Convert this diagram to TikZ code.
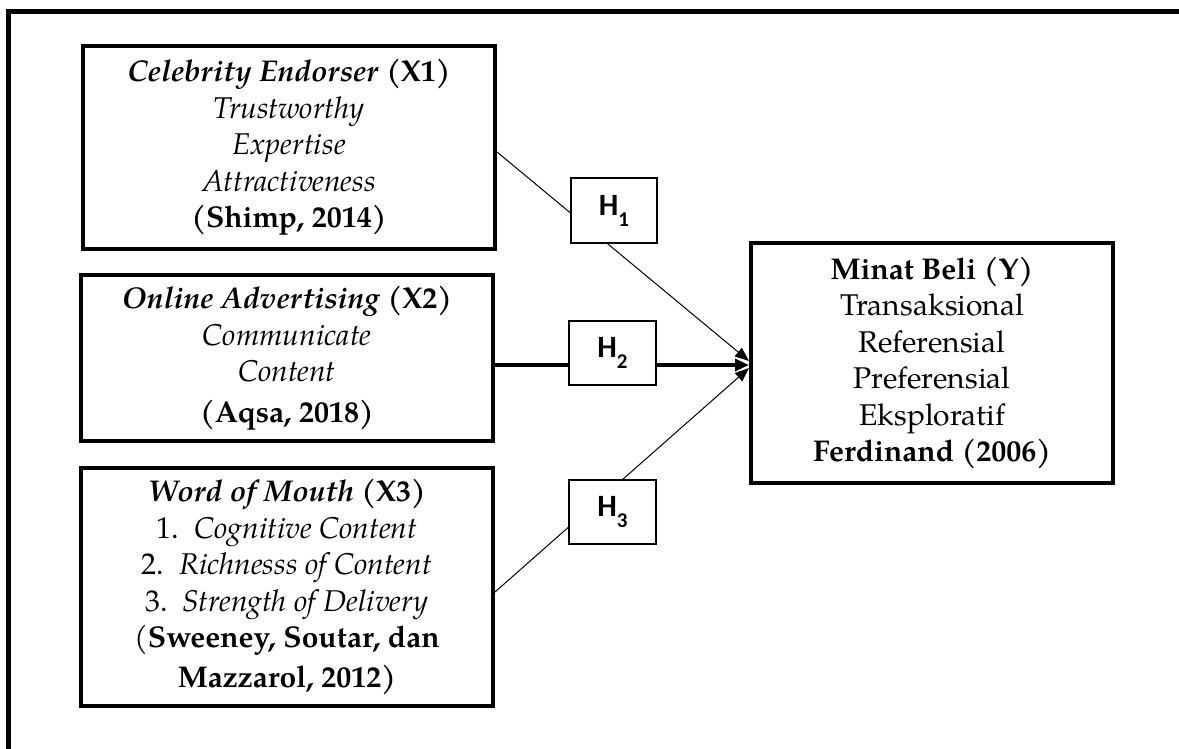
\documentclass[tikz,border=0pt]{standalone}
\usepackage{fontspec}
\setmainfont{texgyrepagella}[Extension=.otf,UprightFont=*-regular,BoldFont=*-bold,ItalicFont=*-italic,BoldItalicFont=*-bolditalic]
\newfontfamily\hfont{Carlito}
\usetikzlibrary{arrows.meta}
\tikzset{
  varbox/.style={draw=black, line width=4pt, fill=white, align=center, inner sep=0pt,
    font=\fontsize{30}{36.5}\selectfont},
  hbox/.style={draw=black, line width=1.2pt, fill=white, inner sep=0pt,
    minimum width=87pt, minimum height=64pt, font=\hfont\bfseries\fontsize{31}{31}\selectfont},
  thinlink/.style={line width=1pt, -{Triangle[length=14pt,width=11pt]}},
  thicklink/.style={line width=3.2pt, -{Triangle[length=14pt,width=12pt]}},
  frameline/.style={line width=5pt}
}
\newcommand{\hsub}[1]{\raisebox{-11pt}{\fontsize{21}{21}\selectfont #1}}
\begin{document}
\begin{tikzpicture}[x=1pt,y=-1pt]
\useasboundingbox (0,0) rectangle (1179,749);
\clip (0,0) rectangle (1179,749);
\draw[frameline] (8.5,800) -- (8.5,12) -- (1200,12);

\node[varbox, minimum width=412pt, minimum height=203pt] (x1) at (289,147.5)
  {\textbf{\textit{Celebrity Endorser}} \textbf{(X1)}\\
   \textit{Trustworthy}\\ \textit{Expertise}\\ \textit{Attractiveness}\\
   \textbf{(Shimp, 2014)}};
\node[varbox, minimum width=412pt, minimum height=166pt] (x2) at (287,358)
  {\textbf{\textit{Online Advertising}} \textbf{(X2)}\\
   \textit{Communicate}\\ \textit{Content}\\[4pt]
   \textbf{(Aqsa, 2018)}};
\node[varbox, minimum width=412pt, minimum height=238pt] (x3) at (287,587)
  {\textbf{\textit{Word of Mouth}} \textbf{(X3)}\\
   1.\ \ \textit{Cognitive Content}\\
   2.\ \ \textit{Richnesss of Content}\\
   3.\ \ \textit{Strength of Delivery}\\
   (\textbf{Sweeney, Soutar, dan}\\[3pt]
   \textbf{Mazzarol, 2012)}};
\node[varbox, minimum width=362pt, minimum height=240pt] (y) at (932,363)
  {\textbf{Minat Beli (Y)}\\ Transaksional\\ Referensial\\ Preferensial\\ Eksploratif\\
   \textbf{Ferdinand (2006)}};

\draw[thinlink] ([yshift=-4.5pt]x1.east) -- ([yshift=2pt]y.west);
\draw[thicklink] ([yshift=-7pt]x2.east) -- ([yshift=-2pt]y.west);
\draw[thinlink] ([yshift=-5pt]x3.east) -- ([yshift=-5pt]y.west);

\node[hbox, minimum width=86pt, minimum height=65pt] (h1) at (614,210.5) {H\hsub{1}};
\node[hbox] (h2) at (612.5,353) {H\hsub{2}};
\node[hbox] (h3) at (612.5,512) {H\hsub{3}};
\end{tikzpicture}
\end{document}
